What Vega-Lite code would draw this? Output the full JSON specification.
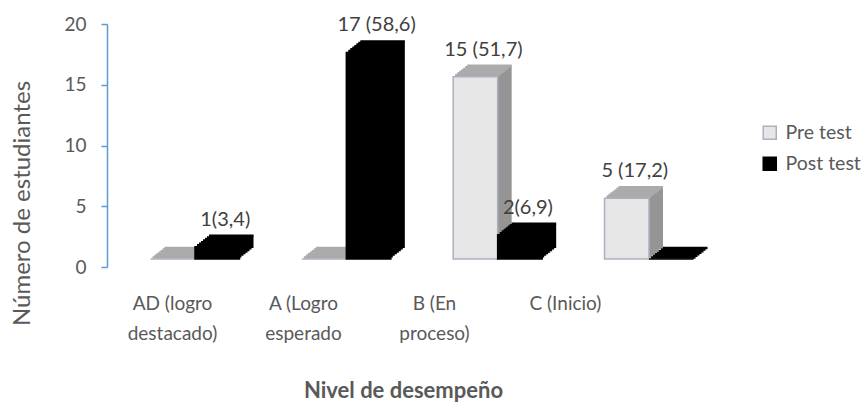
{
  "$schema": "https://vega.github.io/schema/vega-lite/v6.json",
  "width": 630,
  "height": 243,
  "autosize": {"type": "none"},
  "padding": {"left": 107, "top": 24, "right": 130, "bottom": 135},
  "background": "#ffffff",
  "config": {"font": "Lato", "view": {"stroke": null}},
  "data": {"values": [
    {"nivel": "AD (logro destacado)", "series": "Pre test", "value": 0, "label": ""},
    {"nivel": "AD (logro destacado)", "series": "Post test", "value": 1, "label": "1(3,4)"},
    {"nivel": "A (Logro esperado", "series": "Pre test", "value": 0, "label": ""},
    {"nivel": "A (Logro esperado", "series": "Post test", "value": 17, "label": "17 (58,6)"},
    {"nivel": "B (En proceso)", "series": "Pre test", "value": 15, "label": "15 (51,7)"},
    {"nivel": "B (En proceso)", "series": "Post test", "value": 2, "label": "2(6,9)"},
    {"nivel": "C (Inicio)", "series": "Pre test", "value": 5, "label": "5 (17,2)"},
    {"nivel": "C (Inicio)", "series": "Post test", "value": 0, "label": ""}
  ]},
  "resolve": {"scale": {"x": "independent"}},
  "layer": [
    {
      "resolve": {"scale": {"xOffset": "independent"}},
      "encoding": {
        "x": {"field": "nivel", "type": "nominal", "sort": ["AD (logro destacado)", "A (Logro esperado", "B (En proceso)", "C (Inicio)"], "scale": {"paddingInner": 0.412, "paddingOuter": 0.2875}, "axis": null},
        "y": {"field": "value", "type": "quantitative", "scale": {"domain": [0, 20]},
          "axis": {"values": [0, 5, 10, 15, 20], "grid": false, "domainColor": "#5B9BD5", "domainWidth": 1.5, "tickColor": "#5B9BD5", "tickWidth": 1.5, "tickSize": 6,
            "labelFontSize": 19, "labelColor": "#595959", "labelFont": "Lato", "labelPadding": 15,
            "title": "Número de estudiantes", "titleFontSize": 24, "titleFontWeight": "normal", "titleColor": "#595959", "titleFont": "Lato",
            "titleX": -85, "titleY": 179, "titleAngle": -90, "titleBaseline": "middle", "titleAlign": "center"}}
      },
      "layer": [
        {"mark": {"type": "bar", "yOffset": -9.571, "y2Offset": -9.571}, "encoding": {"xOffset": {"field": "series", "type": "nominal", "sort": ["Pre test", "Post test"], "scale": {"paddingInner": 0, "paddingOuter": 0, "range": [2, 91]}}, "fill": {"condition": {"test": "datum.series === 'Pre test'", "value": "#959595"}, "value": "#000000"}}},
        {"mark": {"type": "bar", "yOffset": -11.143, "y2Offset": -11.143}, "encoding": {"xOffset": {"field": "series", "type": "nominal", "sort": ["Pre test", "Post test"], "scale": {"paddingInner": 0, "paddingOuter": 0, "range": [4, 93]}}, "fill": {"condition": {"test": "datum.series === 'Pre test'", "value": "#959595"}, "value": "#000000"}}},
        {"mark": {"type": "bar", "yOffset": -12.714, "y2Offset": -12.714}, "encoding": {"xOffset": {"field": "series", "type": "nominal", "sort": ["Pre test", "Post test"], "scale": {"paddingInner": 0, "paddingOuter": 0, "range": [6, 95]}}, "fill": {"condition": {"test": "datum.series === 'Pre test'", "value": "#959595"}, "value": "#000000"}}},
        {"mark": {"type": "bar", "yOffset": -14.286, "y2Offset": -14.286}, "encoding": {"xOffset": {"field": "series", "type": "nominal", "sort": ["Pre test", "Post test"], "scale": {"paddingInner": 0, "paddingOuter": 0, "range": [8, 97]}}, "fill": {"condition": {"test": "datum.series === 'Pre test'", "value": "#959595"}, "value": "#000000"}}},
        {"mark": {"type": "bar", "yOffset": -15.857, "y2Offset": -15.857}, "encoding": {"xOffset": {"field": "series", "type": "nominal", "sort": ["Pre test", "Post test"], "scale": {"paddingInner": 0, "paddingOuter": 0, "range": [10, 99]}}, "fill": {"condition": {"test": "datum.series === 'Pre test'", "value": "#959595"}, "value": "#000000"}}},
        {"mark": {"type": "bar", "yOffset": -17.429, "y2Offset": -17.429}, "encoding": {"xOffset": {"field": "series", "type": "nominal", "sort": ["Pre test", "Post test"], "scale": {"paddingInner": 0, "paddingOuter": 0, "range": [12, 101]}}, "fill": {"condition": {"test": "datum.series === 'Pre test'", "value": "#959595"}, "value": "#000000"}}},
        {"mark": {"type": "bar", "yOffset": -19, "y2Offset": -19}, "encoding": {"xOffset": {"field": "series", "type": "nominal", "sort": ["Pre test", "Post test"], "scale": {"paddingInner": 0, "paddingOuter": 0, "range": [14, 103]}}, "fill": {"condition": {"test": "datum.series === 'Pre test'", "value": "#959595"}, "value": "#000000"}}},
        {"mark": {"type": "bar", "yOffset": -9.571, "y2Offset": -9.571, "strokeWidth": 2.5, "fillOpacity": 0}, "encoding": {"xOffset": {"field": "series", "type": "nominal", "sort": ["Pre test", "Post test"], "scale": {"paddingInner": 0, "paddingOuter": 0, "range": [2, 91]}}, "y2": {"field": "value"}, "stroke": {"condition": {"test": "datum.series === 'Pre test'", "value": "#ABABAB"}, "value": "#000000"}}},
        {"mark": {"type": "bar", "yOffset": -11.143, "y2Offset": -11.143, "strokeWidth": 2.5, "fillOpacity": 0}, "encoding": {"xOffset": {"field": "series", "type": "nominal", "sort": ["Pre test", "Post test"], "scale": {"paddingInner": 0, "paddingOuter": 0, "range": [4, 93]}}, "y2": {"field": "value"}, "stroke": {"condition": {"test": "datum.series === 'Pre test'", "value": "#ABABAB"}, "value": "#000000"}}},
        {"mark": {"type": "bar", "yOffset": -12.714, "y2Offset": -12.714, "strokeWidth": 2.5, "fillOpacity": 0}, "encoding": {"xOffset": {"field": "series", "type": "nominal", "sort": ["Pre test", "Post test"], "scale": {"paddingInner": 0, "paddingOuter": 0, "range": [6, 95]}}, "y2": {"field": "value"}, "stroke": {"condition": {"test": "datum.series === 'Pre test'", "value": "#ABABAB"}, "value": "#000000"}}},
        {"mark": {"type": "bar", "yOffset": -14.286, "y2Offset": -14.286, "strokeWidth": 2.5, "fillOpacity": 0}, "encoding": {"xOffset": {"field": "series", "type": "nominal", "sort": ["Pre test", "Post test"], "scale": {"paddingInner": 0, "paddingOuter": 0, "range": [8, 97]}}, "y2": {"field": "value"}, "stroke": {"condition": {"test": "datum.series === 'Pre test'", "value": "#ABABAB"}, "value": "#000000"}}},
        {"mark": {"type": "bar", "yOffset": -15.857, "y2Offset": -15.857, "strokeWidth": 2.5, "fillOpacity": 0}, "encoding": {"xOffset": {"field": "series", "type": "nominal", "sort": ["Pre test", "Post test"], "scale": {"paddingInner": 0, "paddingOuter": 0, "range": [10, 99]}}, "y2": {"field": "value"}, "stroke": {"condition": {"test": "datum.series === 'Pre test'", "value": "#ABABAB"}, "value": "#000000"}}},
        {"mark": {"type": "bar", "yOffset": -17.429, "y2Offset": -17.429, "strokeWidth": 2.5, "fillOpacity": 0}, "encoding": {"xOffset": {"field": "series", "type": "nominal", "sort": ["Pre test", "Post test"], "scale": {"paddingInner": 0, "paddingOuter": 0, "range": [12, 101]}}, "y2": {"field": "value"}, "stroke": {"condition": {"test": "datum.series === 'Pre test'", "value": "#ABABAB"}, "value": "#000000"}}},
        {"mark": {"type": "bar", "yOffset": -19, "y2Offset": -19, "strokeWidth": 2.5, "fillOpacity": 0}, "encoding": {"xOffset": {"field": "series", "type": "nominal", "sort": ["Pre test", "Post test"], "scale": {"paddingInner": 0, "paddingOuter": 0, "range": [14, 103]}}, "y2": {"field": "value"}, "stroke": {"condition": {"test": "datum.series === 'Pre test'", "value": "#ABABAB"}, "value": "#000000"}}},
        {"mark": {"type": "bar", "yOffset": -8, "y2Offset": -8, "strokeWidth": 1.5},
          "encoding": {
            "xOffset": {"field": "series", "type": "nominal", "sort": ["Pre test", "Post test"], "scale": {"paddingInner": 0, "paddingOuter": 0, "range": [0, 89]}},
            "fill": {"field": "series", "type": "nominal", "scale": {"domain": ["Pre test", "Post test"], "range": ["#E6E6E6", "#000000"]},
              "legend": {"title": null, "orient": "none", "legendX": 653, "legendY": 99, "symbolType": "square", "symbolSize": 170, "symbolStrokeWidth": 1.5, "labelFontSize": 19.5, "labelColor": "#595959", "labelFont": "Lato", "rowPadding": 10, "labelOffset": 6}},
            "stroke": {"field": "series", "type": "nominal", "scale": {"domain": ["Pre test", "Post test"], "range": ["#A9B2BE", "#000000"]}}
          }},
        {"transform": [{"filter": "datum.label !== ''"}],
          "mark": {"type": "text", "dx": 8, "dy": -35, "baseline": "middle", "align": "center", "fontSize": 20, "font": "Lato", "color": "#404040"},
          "encoding": {
            "xOffset": {"field": "series", "type": "nominal", "sort": ["Pre test", "Post test"], "scale": {"type": "band", "paddingInner": 0, "paddingOuter": 0, "range": [0, 89]}},
            "text": {"field": "label", "type": "nominal"}}}
      ]
    },
    {
      "mark": {"type": "point", "opacity": 0},
      "encoding": {
        "x": {"field": "nivel", "type": "nominal", "sort": ["AD (logro destacado)", "A (Logro esperado", "B (En proceso)", "C (Inicio)"],
          "scale": {"type": "band", "paddingInner": 0, "paddingOuter": 0.405, "align": 0},
          "axis": {"title": "Nivel de desempeño", "domain": false, "ticks": false, "labelAngle": 0, "labelFontSize": 19, "labelColor": "#595959", "labelFont": "Lato", "labelLineHeight": 30, "labelPadding": 27,
            "labelExpr": "indexof(datum.value, ' ') == lastindexof(datum.value, ' ') ? datum.value : [substring(datum.value, 0, lastindexof(datum.value, ' ')), substring(datum.value, lastindexof(datum.value, ' ') + 1)]",
            "titleFontSize": 22, "titleFontWeight": "bold", "titleColor": "#595959", "titleFont": "Lato", "titleX": 296, "titleY": 123, "titleBaseline": "middle", "titleAlign": "center"}}
      }
    }
  ]
}
